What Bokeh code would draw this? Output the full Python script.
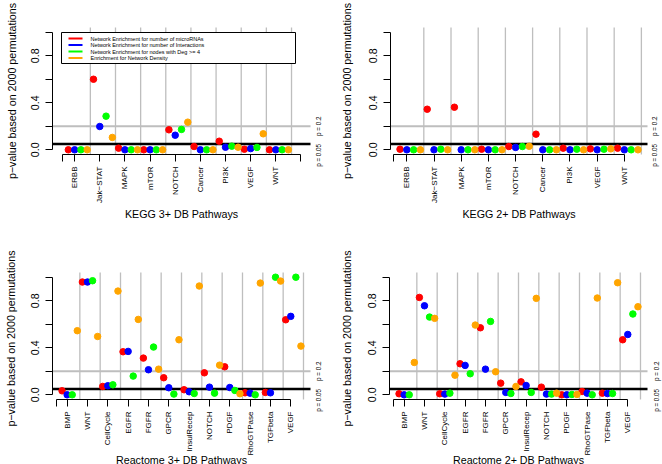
from math import pi
from bokeh.plotting import figure
from bokeh.models import Range1d, FixedTicker
from bokeh.layouts import column, row
from bokeh.embed import file_html
from bokeh.resources import INLINE
from bokeh.core.properties import value

# ------------------------------------------------------------------ data
METHODS = ["Network Enrichment for number of microRNAs",
           "Network Enrichment for number of Interactions",
           "Network Enrichment for nodes with Deg >= 4",
           "Enrichment for Network Density"]
COLORS = ["#FF0000", "#0000FF", "#00FF00", "#FFA500"]

kegg_pathways = ["ERBB", "Jak\u2212STAT", "MAPK", "mTOR", "NOTCH", "Cancer",
                 "PI3K", "VEGF", "WNT"]
kegg3_mirna = [0.0, 0.600, 0.014, 0.0, 0.170, 0.028, 0.073, 0.005, 0.0]
kegg3_inter = [0.0, 0.198, 0.0, 0.0, 0.124, 0.0, 0.022, 0.010, 0.0]
kegg3_deg4 = [0.0, 0.286, 0.0, 0.0, 0.173, 0.0, 0.031, 0.020, 0.0]
kegg3_dens = [0.0, 0.105, 0.0, 0.0, 0.235, 0.0, 0.022, 0.136, 0.0]

kegg2_mirna = [0.005, 0.345, 0.362, 0.005, 0.028, 0.133, 0.014, 0.008, 0.014]
kegg2_inter = [0.0, 0.0, 0.0, 0.0, 0.020, 0.0, 0.0, 0.0, 0.0]
kegg2_deg4 = [0.0, 0.005, 0.0, 0.0, 0.028, 0.0, 0.005, 0.005, 0.0]
kegg2_dens = [0.0, 0.0, 0.0, 0.0, 0.030, 0.0, 0.0, 0.008, 0.0]

reactome_pathways = ["BMP", "WNT", "CellCycle", "EGFR", "FGFR", "GPCR",
                     "InsulRecep", "NOTCH", "PDGF", "RhoGTPase", "TGFbeta", "VEGF"]
react3_mirna = [0.034, 0.959, 0.071, 0.366, 0.312, 0.145, 0.043, 0.187, 0.238, 0.017, 0.020, 0.638]
react3_inter = [0.0, 0.959, 0.077, 0.369, 0.213, 0.060, 0.026, 0.065, 0.062, 0.014, 0.017, 0.667]
react3_deg4 = [0.0, 0.970, 0.085, 0.159, 0.406, 0.006, 0.011, 0.014, 0.037, 0.0, 1.0, 1.0]
react3_dens = [0.545, 0.496, 0.882, 0.641, 0.218, 0.468, 0.925, 0.252, 0.009, 0.950, 0.967, 0.414]

react2_mirna = [0.009, 0.828, 0.009, 0.264, 0.570, 0.099, 0.110, 0.065, 0.0, 0.028, 0.014, 0.468]
react2_inter = [0.0, 0.757, 0.006, 0.250, 0.218, 0.020, 0.079, 0.006, 0.0, 0.014, 0.011, 0.513]
react2_deg4 = [0.0, 0.661, 0.014, 0.179, 0.624, 0.011, 0.020, 0.006, 0.003, 0.0, 0.011, 0.687]
react2_dens = [0.275, 0.650, 0.167, 0.593, 0.196, 0.071, 0.820, 0.014, 0.003, 0.823, 0.953, 0.749]

Y_TICKS = [0.0, 0.2, 0.4, 0.6, 0.8, 1.0]
Y_TICK_LABELS = ["0.0", "", "0.4", "", "0.8", ""]
THRESHOLDS = [0.05, 0.2]
THRESHOLD_LABELS = ["p = 0.05", "p = 0.2"]
Y_TITLE = "p\u2212value based on 2000 permutations"
TITLES = ["KEGG 3+ DB Pathways", "KEGG 2+ DB Pathways",
          "Reactome 3+ DB Pathways", "Reactome 2+ DB Pathways"]

# ------------------------------------------------------------------ style
FONT = "Liberation Sans"
GRAY = "#BEBEBE"
Y_REG = (-0.04, 1.04)   # R-style padded y limits of each plot region


def make_panel(canvas, region, xr, names, series, title, pos, legend=False):
    cx0, cy0, cx1, cy1 = canvas
    rl, rt, rr, rb = region
    ppx = (rr - rl) / (xr[1] - xr[0])
    ppy = (rb - rt) / (Y_REG[1] - Y_REG[0])

    def X(px):
        return xr[0] + (px - rl) / ppx

    def Y(py):
        return Y_REG[1] - (py - rt) / ppy

    p = figure(width=cx1 - cx0, height=cy1 - cy0,
               x_range=Range1d(X(cx0), X(cx1)), y_range=Range1d(Y(cy1), Y(cy0)),
               output_backend="svg", toolbar_location=None,
               min_border_left=0, min_border_right=0,
               min_border_top=0, min_border_bottom=0)
    p.background_fill_color = "white"
    p.border_fill_color = "white"
    p.outline_line_color = None
    p.xgrid.visible = False
    p.ygrid.visible = False

    n = len(names)
    centers = [4 * g + 2 for g in range(n)]
    xt = [t for t in [0] + centers + [4 * n + 2] if xr[0] <= t <= xr[1]]
    xover = {t: "" for t in xt}
    xover.update({c: nm for c, nm in zip(centers, names)})

    xa = p.xaxis[0]
    ya = p.yaxis[0]
    xa.fixed_location = Y_REG[0]
    ya.fixed_location = xr[0]
    xa.ticker = FixedTicker(ticks=xt, minor_ticks=[])
    ya.ticker = FixedTicker(ticks=Y_TICKS, minor_ticks=[])
    xa.bounds = (min(xt), max(xt))
    ya.bounds = (0, 1)
    xa.major_label_overrides = xover
    ya.major_label_overrides = dict(zip(Y_TICKS, Y_TICK_LABELS))
    xa.major_label_orientation = pi / 2
    ya.major_label_orientation = "parallel"
    xa.major_label_text_font_size = "8px"
    ya.major_label_text_font_size = "10.7px"
    xa.major_label_standoff = 5
    ya.major_label_standoff = 6
    for ax in (xa, ya):
        ax.major_label_text_font = FONT
        ax.major_label_text_color = "black"
        ax.axis_line_color = "black"
        ax.axis_line_width = 1
        ax.major_tick_line_color = "black"
        ax.major_tick_line_width = 1
        ax.major_tick_out = 7
        ax.major_tick_in = 0
        ax.minor_tick_out = 0
        ax.minor_tick_in = 0

    # group separators and threshold lines
    seps = [4 * g + 4.5 for g in range(n)]
    p.segment(x0=seps, x1=seps, y0=[Y_REG[0]] * n, y1=[Y_REG[1]] * n,
              line_color=GRAY, line_width=1.3)
    p.segment(x0=[xr[0]], x1=[xr[1]], y0=[THRESHOLDS[1]], y1=[THRESHOLDS[1]],
              line_color=GRAY, line_width=2)
    p.segment(x0=[xr[0]], x1=[xr[1]], y0=[THRESHOLDS[0]], y1=[THRESHOLDS[0]],
              line_color="black", line_width=2.5)

    # points
    for i, (vals, col) in enumerate(zip(series, COLORS)):
        xs = [4 * g + i + 1 for g in range(n)]
        p.scatter(x=xs, y=vals, size=6.5, marker="circle",
                  fill_color=col, line_color=col)

    # titles
    p.text(x=[X(pos["ytitle"][0])], y=[Y(pos["ytitle"][1])], text=[Y_TITLE],
           angle=pi / 2, text_align="center", text_baseline="middle",
           text_font=value(FONT), text_font_size="10.7px", text_color="black")
    p.text(x=[X((rl + rr) / 2)], y=[Y(pos["xtitle_base"])], text=[title],
           text_align="center", text_baseline="alphabetic",
           text_font=value(FONT), text_font_size="10.7px", text_color="black")
    # threshold labels in the right margin
    p.text(x=[X(pos["plab_x"])], y=[THRESHOLDS[0]], text=[THRESHOLD_LABELS[0]],
           angle=pi / 2, text_align="right", text_baseline="middle",
           text_font=value(FONT), text_font_size="6.3px", text_color="black")
    p.text(x=[X(pos["plab_x"])], y=[THRESHOLDS[1]], text=[THRESHOLD_LABELS[1]],
           angle=pi / 2, text_align="center", text_baseline="middle",
           text_font=value(FONT), text_font_size="6.3px", text_color="black")

    if legend:
        p.quad(left=[X(61)], right=[X(295)], top=[Y(32)], bottom=[Y(63)],
               fill_color="white", line_color="black", line_width=1)
        rows = [38, 44.5, 51, 57.5]
        p.segment(x0=[X(68)] * 4, x1=[X(82)] * 4, y0=[Y(r) for r in rows],
                  y1=[Y(r) for r in rows], line_color=COLORS, line_width=2)
        p.text(x=[X(90)] * 4, y=[Y(r) for r in rows], text=METHODS,
               text_font=value(FONT), text_font_size="5.5px",
               text_baseline="middle", text_align="left", text_color="black")
    return p


tl = make_panel((0, 0, 331, 232), (52, 27, 310, 154), (-1.52, 39.52), kegg_pathways,
                [kegg3_mirna, kegg3_inter, kegg3_deg4, kegg3_dens], TITLES[0],
                dict(ytitle=(11.7, 90.5), xtitle_base=213, plab_x=318), legend=True)
tr = make_panel((331, 0, 662, 232), (390, 27, 647, 154), (-0.4, 37.4), kegg_pathways,
                [kegg2_mirna, kegg2_inter, kegg2_deg4, kegg2_dens], TITLES[1],
                dict(ytitle=(346, 90.5), xtitle_base=213, plab_x=654))
bl = make_panel((0, 232, 331, 464), (52, 272, 310, 399), (-0.88, 49.88), reactome_pathways,
                [react3_mirna, react3_inter, react3_deg4, react3_dens], TITLES[2],
                dict(ytitle=(10.8, 338), xtitle_base=459, plab_x=318.3))
br = make_panel((331, 232, 662, 464), (389, 272, 647, 399), (-0.88, 49.88), reactome_pathways,
                [react2_mirna, react2_inter, react2_deg4, react2_dens], TITLES[3],
                dict(ytitle=(346, 338), xtitle_base=459, plab_x=655.5))

layout = column(row(tl, tr), row(bl, br))
open("out.html", "w").write(file_html(layout, INLINE))
